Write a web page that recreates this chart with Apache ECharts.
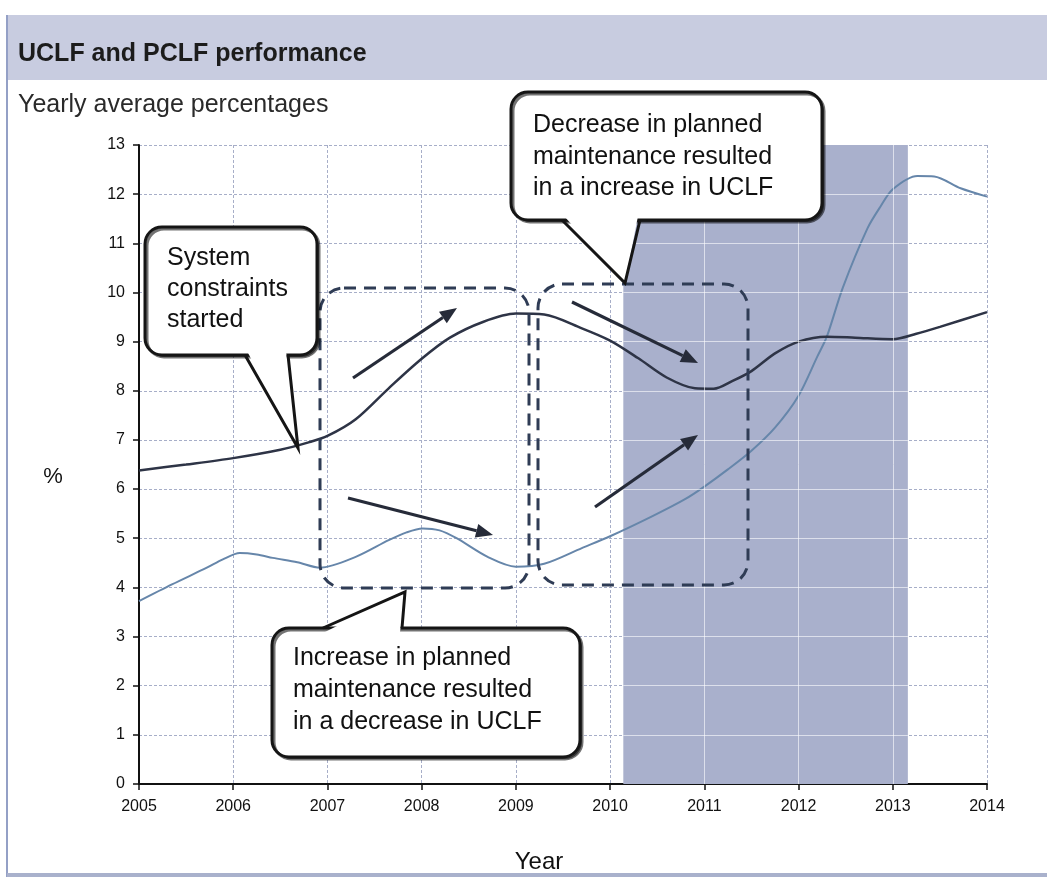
<!DOCTYPE html>
<html><head><meta charset="utf-8">
<script src="https://cdn.jsdelivr.net/npm/echarts@6/dist/echarts.min.js"></script>
<style>html,body{margin:0;padding:0;background:#fff}#c{width:1047px;height:877px}</style>
</head><body><div id="c"></div>
<script>
// ---- data ----
const xTicks = [2005, 2006, 2007, 2008, 2009, 2010, 2011, 2012, 2013, 2014];
const xTickLabels = ['2005', '2006', '2007', '2008', '2009', '2010', '2011', '2012', '2013', '2014'];
const yTicks = [0, 1, 2, 3, 4, 5, 6, 7, 8, 9, 10, 11, 12, 13];
const yTickLabels = ['0', '1', '2', '3', '4', '5', '6', '7', '8', '9', '10', '11', '12', '13'];

const pclfYears = [2005.0, 2005.5, 2006.0, 2006.5, 2006.8, 2007.0, 2007.3, 2007.65, 2008.0, 2008.3, 2008.65, 2009.0, 2009.3, 2009.7, 2010.0, 2010.3, 2010.6, 2010.9, 2011.1, 2011.3, 2011.5, 2011.75, 2012.0, 2012.3, 2012.6, 2013.0, 2013.25, 2013.5, 2014.0];
const pclfValues = [6.38, 6.5, 6.63, 6.8, 6.95, 7.08, 7.42, 8.05, 8.65, 9.08, 9.4, 9.57, 9.55, 9.27, 9.02, 8.66, 8.27, 8.05, 8.04, 8.2, 8.4, 8.76, 9.0, 9.1, 9.08, 9.05, 9.16, 9.3, 9.6];

const uclfYears = [2005.0, 2005.35, 2005.72, 2005.89, 2006.07, 2006.25, 2006.42, 2006.68, 2006.92, 2007.3, 2007.65, 2007.84, 2008.01, 2008.19, 2008.37, 2008.7, 2009.0, 2009.3, 2009.7, 2010.0, 2010.45, 2010.8, 2011.0, 2011.25, 2011.5, 2011.75, 2012.0, 2012.2, 2012.3, 2012.47, 2012.73, 2012.87, 2013.0, 2013.26, 2013.44, 2013.72, 2014.0];
const uclfValues = [3.72, 4.06, 4.4, 4.57, 4.7, 4.67, 4.6, 4.51, 4.4, 4.62, 4.96, 5.12, 5.2, 5.16, 5.0, 4.62, 4.42, 4.48, 4.8, 5.04, 5.45, 5.8, 6.05, 6.4, 6.78, 7.25, 7.9, 8.7, 9.1, 10.1, 11.3, 11.75, 12.1, 12.37, 12.36, 12.12, 11.95];

const shadeRange = [2010.14, 2013.16];

// ---- chart ----
const FONT = "'Liberation Sans', Arial, sans-serif";
const chart = echarts.init(document.getElementById('c'), null, {renderer: 'canvas'});

const pclfData = pclfYears.map((y, i) => [y, pclfValues[i]]);
const uclfData = uclfYears.map((y, i) => [y, uclfValues[i]]);

const yMin = yTicks[0], yMax = yTicks[yTicks.length - 1];
const overlayLines = [];
yTicks.filter(v => v > yMin && v < yMax).forEach(v => {
  overlayLines.push([{coord: [shadeRange[0], v]}, {coord: [shadeRange[1], v]}]);
});
xTicks.filter(v => v > shadeRange[0] && v < shadeRange[1]).forEach(v => {
  overlayLines.push([{coord: [v, yMin]}, {coord: [v, yMax]}]);
});

// ---- annotation helpers (pixel layout) ----
const INK = '#151515';
function callout(box, tail, lines, tx, tcy, lh) {
  const [x, y, w, h] = box;
  const [bl, tip, br] = tail;
  const up = tip[1] < y + h / 2;
  const d = up ? 4 : -4;
  return [
    {type: 'rect', z: 100, shape: {x, y, width: w, height: h, r: 17},
     style: {fill: '#fff', stroke: INK, lineWidth: 3, shadowColor: 'rgba(0,0,0,0.55)', shadowOffsetX: 2, shadowOffsetY: 2}},
    {type: 'polygon', z: 101, shape: {points: [[bl[0] + 2, bl[1] + d], tip, [br[0] - 2, br[1] + d]]},
     style: {fill: '#fff', stroke: null}},
    {type: 'polyline', z: 102, shape: {points: [bl, tip, br]},
     style: {stroke: INK, lineWidth: 3, fill: null}},
    {type: 'text', z: 103, x: tx, y: tcy,
     style: {text: lines.join('\n'), fontSize: 25, fontFamily: FONT, fill: '#111', align: 'left', verticalAlign: 'middle', lineHeight: lh}}
  ];
}
function arrow(x1, y1, x2, y2) {
  const ang = Math.atan2(y2 - y1, x2 - x1);
  const L = 17, W = 7;
  const bx = x2 - L * Math.cos(ang), by = y2 - L * Math.sin(ang);
  const px = -Math.sin(ang) * W, py = Math.cos(ang) * W;
  return [
    {type: 'line', z: 95, shape: {x1, y1, x2: bx, y2: by}, style: {stroke: '#262b39', lineWidth: 3.2}},
    {type: 'polygon', z: 95, shape: {points: [[x2, y2], [bx + px, by + py], [bx - px, by - py]]}, style: {fill: '#262b39'}}
  ];
}
function dashedBox(x, y, w, h) {
  return {type: 'rect', z: 90, shape: {x, y, width: w, height: h, r: 24},
    style: {fill: null, stroke: '#2f3c55', lineWidth: 3, lineDash: [12, 8]}};
}

const graphics = [
  // page frame / header band
  {type: 'rect', z: 0, shape: {x: 7, y: 15, width: 1040, height: 65}, style: {fill: '#c8cce0'}},
  {type: 'line', z: 0, shape: {x1: 7, y1: 15, x2: 7, y2: 877}, style: {stroke: '#94a0c6', lineWidth: 2}},
  {type: 'rect', z: 0, shape: {x: 7, y: 873, width: 1040, height: 4}, style: {fill: '#a9b1cc'}},
  // axis names
  {type: 'text', z: 10, x: 53, y: 477, style: {text: '%', fontSize: 22, fontFamily: FONT, fill: '#111', align: 'center', verticalAlign: 'middle'}},
  {type: 'text', z: 10, x: 539, y: 862, style: {text: 'Year', fontSize: 24, fontFamily: FONT, fill: '#111', align: 'center', verticalAlign: 'middle'}},
  // dashed boxes
  dashedBox(320, 288, 209, 300),
  dashedBox(538, 284, 210, 301),
  // arrows
  ...arrow(353, 378, 457, 308),
  ...arrow(348, 498, 493, 535),
  ...arrow(572, 302, 698, 363),
  ...arrow(595, 507, 698, 435),
  // callouts
  ...callout([145, 227, 172, 128], [[245, 355], [298, 448], [288, 355]], ['System', 'constraints', 'started'], 167, 289, 31),
  ...callout([511, 92, 311, 128], [[562, 220], [625, 283], [640, 220]], ['Decrease in planned', 'maintenance resulted', 'in a increase in UCLF'], 533, 157, 31.5),
  ...callout([272, 628, 308, 129], [[323, 628], [405, 592], [402, 628]], ['Increase in planned', 'maintenance resulted', 'in a decrease in UCLF'], 293, 690, 32)
];

const option = {
  animation: false,
  backgroundColor: '#fff',
  title: {
    text: 'UCLF and PCLF performance',
    subtext: 'Yearly average percentages',
    left: 18, top: 42, padding: 0, itemGap: 26,
    textStyle: {fontSize: 25, fontWeight: 'bold', color: '#1c1c1c', fontFamily: FONT, lineHeight: 25},
    subtextStyle: {fontSize: 25, color: '#2a2a2a', fontFamily: FONT, lineHeight: 25}
  },
  grid: {left: 139, right: 60, top: 145, bottom: 93, containLabel: false},
  xAxis: {
    type: 'value', min: xTicks[0], max: xTicks[xTicks.length - 1], interval: 1,
    axisLine: {show: true, onZero: false, lineStyle: {color: '#111', width: 2}},
    axisTick: {show: true, length: 6, lineStyle: {color: '#111', width: 1.5}},
    axisLabel: {fontSize: 16, color: '#111', fontFamily: FONT, margin: 15,
      formatter: v => xTickLabels[xTicks.indexOf(v)] ?? ''},
    splitLine: {show: true, lineStyle: {color: '#a7aec8', width: 1, type: [3, 2]}}
  },
  yAxis: {
    type: 'value', min: yMin, max: yMax, interval: 1,
    axisLine: {show: true, lineStyle: {color: '#111', width: 2}},
    axisTick: {show: true, length: 6, lineStyle: {color: '#111', width: 1.5}},
    axisLabel: {fontSize: 16, color: '#111', fontFamily: FONT, margin: 14,
      formatter: v => yTickLabels[yTicks.indexOf(v)] ?? ''},
    splitLine: {show: true, lineStyle: {color: '#a7aec8', width: 1, type: [3, 2]}}
  },
  series: [
    {
      name: 'shade', type: 'line', data: [], z: 1, silent: true,
      markArea: {silent: true, itemStyle: {color: '#a9b0cc'},
        data: [[{xAxis: shadeRange[0]}, {xAxis: shadeRange[1]}]]},
      markLine: {silent: true, symbol: ['none', 'none'], label: {show: false},
        lineStyle: {color: 'rgba(255,255,255,0.6)', width: 1, type: 'solid'},
        data: overlayLines}
    },
    {
      name: 'UCLF', type: 'line', data: uclfData, smooth: 0.3, showSymbol: false, z: 3,
      lineStyle: {color: '#6686aa', width: 2}
    },
    {
      name: 'PCLF', type: 'line', data: pclfData, smooth: 0.3, showSymbol: false, z: 4,
      lineStyle: {color: '#2e3446', width: 2.5}
    }
  ],
  graphic: graphics
};
chart.setOption(option);
</script>
</body></html>
